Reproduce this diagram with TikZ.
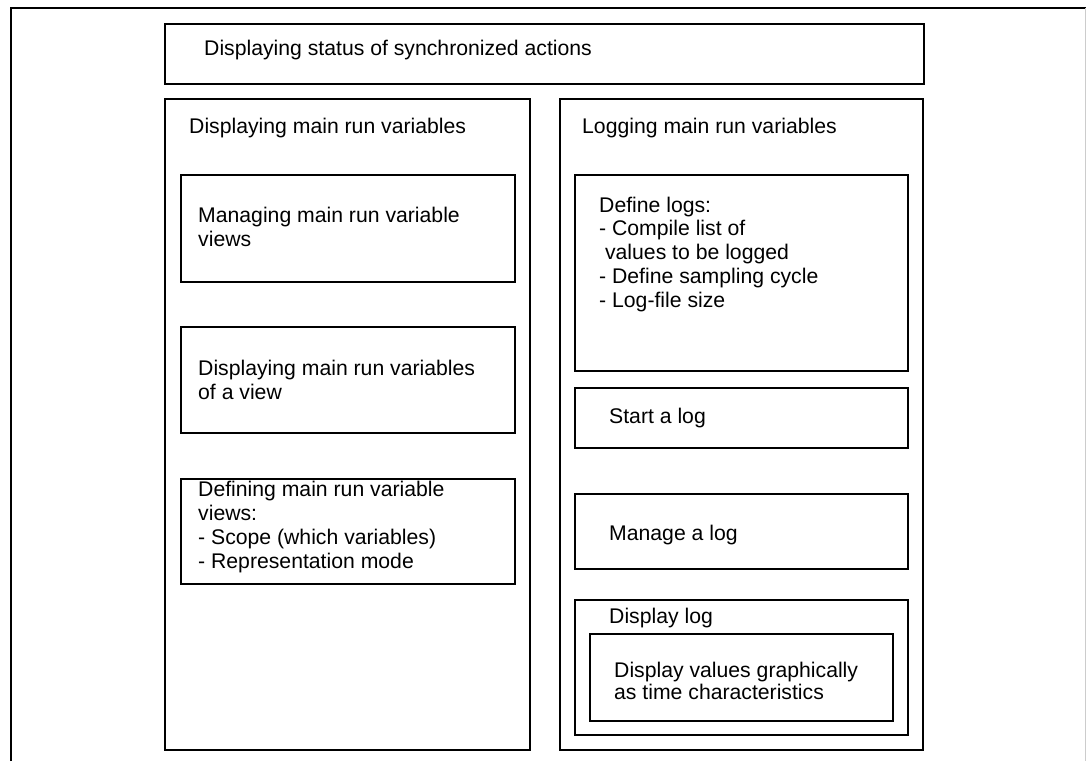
\documentclass[tikz,border=0pt]{standalone}
\usepackage{fontspec}
\setmainfont{Liberation Sans}

\tikzset{
  box/.style={draw=black, line width=1.3pt},
  txt/.style={anchor=base west, inner sep=0pt, align=left, font=\fontsize{21.2}{23.7}\selectfont},
}

\begin{document}
\begin{tikzpicture}[x=1pt, y=-1pt]

\useasboundingbox (0,0) rectangle (1086,761);

% Outer frame, open at the bottom
\draw [line width=1.5pt] (11,761) -- (11,8) -- (1086,8);
\draw [very thin, gray!40] (1085,8) -- (1085,761);

% Title bar
\draw [box] (165,24) rectangle (924,84);
\node [txt] (status) at (204,55) {Displaying status of synchronized actions};

% Left column (multi-line nodes sit on their last baseline)
\draw [box] (165,99) rectangle (530,750);
\node [txt] (display) at (189,133) {Displaying main run variables};

\draw [box] (181,175) rectangle (515,282);
\node [txt] (manage views) at (198,246) {Managing main run variable\\views};

\draw [box] (181,327) rectangle (515,433);
\node [txt] (view vars) at (198,399) {Displaying main run variables\\of a view};

\draw [box] (181,479) rectangle (515,584);
\node [txt] (define views) at (198,568) {Defining main run variable\\views:\\- Scope (which variables)\\- Representation mode};

% Right column
\draw [box] (560,99) rectangle (923,750);
\node [txt] (logging) at (582,133) {Logging main run variables};

\draw [box] (575,175) rectangle (908,371);
\node [txt] (define logs) at (599,307) {Define logs:\\- Compile list of\\\ values to be logged\\- Define sampling cycle\\- Log-file size};

\draw [box] (575,388) rectangle (908,448);
\node [txt] (start) at (609,423) {Start a log};

\draw [box] (575,494) rectangle (908,569);
\node [txt] (manage log) at (609,540) {Manage a log};

\draw [box] (575,600) rectangle (908,735);
\node [txt] (display log) at (609,623) {Display log};

\draw [box] (590,634) rectangle (893,721);
\node [txt, font=\fontsize{21.2}{22}\selectfont] (graph) at (614,699) {Display values graphically\\as time characteristics};

\end{tikzpicture}
\end{document}
